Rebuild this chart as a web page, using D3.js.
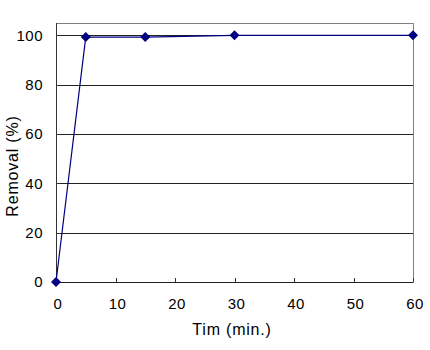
<!DOCTYPE html>
<html>
<head>
<meta charset="utf-8">
<script src="https://cdn.jsdelivr.net/npm/d3@7"></script>
<style>
  body { margin: 0; background: #fff; }
  text { font-family: "Liberation Sans", Arial, sans-serif; fill: #000; }
</style>
</head>
<body>
<div id="chart"></div>
<script>
const times = [0, 5, 15, 30, 60];
const removal = [0, 99.3, 99.3, 100, 100];
const xTicks = [0, 10, 20, 30, 40, 50, 60];
const yTicks = [0, 20, 40, 60, 80, 100];

const W = 430, H = 350;
const margin = { top: 23, right: 17, bottom: 68, left: 56 };
const width = W - margin.left - margin.right,
      height = H - margin.top - margin.bottom;

const svg = d3.select("#chart").append("svg")
  .attr("width", W).attr("height", H);

const g = svg.append("g")
  .attr("transform", `translate(${margin.left},${margin.top})`);

const x = d3.scaleLinear().domain([0, 60]).range([0, width]);
const y = d3.scaleLinear().domain([0, 105]).range([height, 0]);

// gridlines
g.selectAll(".grid").data(yTicks.filter(d => d > 0))
  .enter().append("line")
  .attr("x1", 0).attr("x2", width)
  .attr("y1", d => Math.round(y(d)) + 0.5).attr("y2", d => Math.round(y(d)) + 0.5)
  .attr("stroke", "#222").attr("stroke-width", 1);

// frame (top / right)
g.append("rect")
  .attr("x", 0.5).attr("y", 0.5)
  .attr("width", width).attr("height", height)
  .attr("fill", "none").attr("stroke", "#808080");

// left axis
g.append("line")
  .attr("x1", 0.5).attr("x2", 0.5).attr("y1", 0).attr("y2", height)
  .attr("stroke", "#333");
// bottom axis
g.append("line")
  .attr("x1", 0).attr("x2", width)
  .attr("y1", Math.round(height) + 0.5).attr("y2", Math.round(height) + 0.5)
  .attr("stroke", "#222");

// x tick marks (inside)
g.selectAll(".xt").data(xTicks)
  .enter().append("line")
  .attr("x1", d => Math.round(x(d)) + 0.5).attr("x2", d => Math.round(x(d)) + 0.5)
  .attr("y1", height).attr("y2", height - 4)
  .attr("stroke", "#333");

// y tick marks (inside)
g.selectAll(".yt").data(yTicks)
  .enter().append("line")
  .attr("x1", 0).attr("x2", 4)
  .attr("y1", d => Math.round(y(d)) + 0.5).attr("y2", d => Math.round(y(d)) + 0.5)
  .attr("stroke", "#333");

// tick labels
g.selectAll(".xl").data(xTicks)
  .enter().append("text")
  .attr("x", d => x(d) + 2)
  .attr("y", height + 27)
  .attr("text-anchor", "middle")
  .style("font-size", "15px")
  .style("letter-spacing", "0.5px")
  .text(d => d);

g.selectAll(".yl").data(yTicks)
  .enter().append("text")
  .attr("x", -13)
  .attr("y", d => y(d))
  .attr("dy", "0.36em")
  .attr("text-anchor", "end")
  .style("font-size", "15px")
  .style("letter-spacing", "0.5px")
  .text(d => d);

// axis titles
svg.append("text")
  .attr("x", 232).attr("y", 335)
  .attr("text-anchor", "middle")
  .style("font-size", "16px")
  .style("letter-spacing", "0.8px")
  .text("Tim (min.)");

svg.append("text")
  .attr("transform", "translate(18,166) rotate(-90)")
  .attr("text-anchor", "middle")
  .style("font-size", "16px")
  .style("letter-spacing", "0.8px")
  .text("Removal (%)");

// series
const pts = times.map((t, i) => [t, removal[i]]);
g.append("path")
  .datum(pts)
  .attr("fill", "none")
  .attr("stroke", "#000080")
  .attr("stroke-width", 1.2)
  .attr("d", d3.line().x(d => x(d[0])).y(d => y(d[1])));

g.selectAll(".pt").data(pts)
  .enter().append("path")
  .attr("transform", d => `translate(${x(d[0])},${y(d[1])})`)
  .attr("d", "M0,-5L5,0L0,5L-5,0Z")
  .attr("fill", "#000080");
</script>
</body>
</html>
